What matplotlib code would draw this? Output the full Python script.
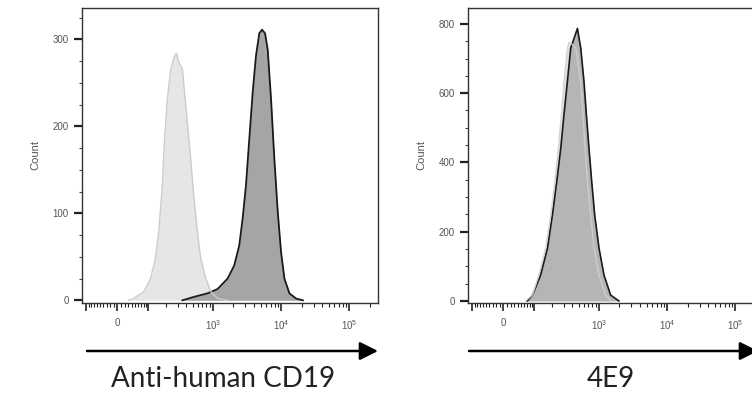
import numpy as np
import matplotlib
matplotlib.use("Agg")
import matplotlib.pyplot as plt

# ---------------- data (fluorescence intensity, cell counts) ----------------
left_iso_x = [30, 45, 81, 109, 133, 151, 173, 188, 208, 234, 263, 287, 314, 353,
              373, 420, 470, 527, 592, 662, 786, 931, 1169, 1640]
left_iso_y = [0, 2, 10, 25, 48, 78, 132, 185, 231, 265, 279, 284, 273, 266,
              246, 204, 162, 116, 78, 48, 25, 10, 2, 0]

left_cd19_x = [353, 527, 832, 1169, 1642, 2051, 2432, 2728, 3051, 3412, 3828, 4277,
               4787, 5243, 5808, 6361, 7115, 7958, 8930, 9985, 11168, 13223, 16595, 20824]
left_cd19_y = [0, 4, 8, 13, 25, 40, 63, 94, 132, 185, 239, 281,
               307, 311, 307, 288, 231, 162, 101, 55, 25, 8, 2, 0]

right_iso_x = [65, 92, 120, 157, 189, 220, 249, 277, 303, 341, 361, 383, 455, 540,
               583, 624, 677, 757, 846, 1002, 1256, 1486]
right_iso_y = [0, 17, 75, 153, 248, 345, 441, 537, 633, 730, 746, 745, 730, 633,
               537, 441, 345, 248, 153, 75, 17, 0]

right_4e9_x = [72, 92, 129, 168, 201, 235, 271, 303, 341, 383, 482, 540, 603, 654,
               714, 783, 867, 1002, 1186, 1486, 1964]
right_4e9_y = [0, 17, 75, 153, 248, 345, 441, 537, 633, 730, 787, 730, 633, 537,
               441, 345, 248, 153, 75, 17, 0]

x_major = [-100, 0, 100, 1e3, 1e4, 1e5]
x_major_labels = ["", "0", "", r"$\mathregular{10^{3}}$", r"$\mathregular{10^{4}}$",
                  r"$\mathregular{10^{5}}$"]
left_yticks = [0, 100, 200, 300]
right_yticks = [0, 200, 400, 600, 800]
xlabels = ["Anti-human CD19", "4E9"]
ylabel = "Count"

# ---------------- biexponential-like scale ----------------
C = 80.0
def fwd(x):
    return np.arcsinh(np.asarray(x, dtype=float) / C) / np.log(10)
def inv(u):
    return C * np.sinh(np.asarray(u, dtype=float) * np.log(10))

x_minor = ([s * v for v in range(10, 100, 10) for s in (-1, 1)]
           + [v * 100 for v in range(2, 10)]
           + [v * 1000 for v in range(2, 10)]
           + [v * 10000 for v in range(2, 10)]
           + [2e5])

W, H = 752, 397
fig = plt.figure(figsize=(W / 100, H / 100), dpi=100)

def px_axes(left, top, right, bottom):
    return fig.add_axes([left / W, 1 - bottom / H, (right - left) / W, (bottom - top) / H])

ax1 = px_axes(82, 8, 378, 302.5)
ax2 = px_axes(468, 8, 764, 302.5)

tick_col = "#555555"
for ax in (ax1, ax2):
    ax.set_xscale("function", functions=(fwd, inv))
    ax.set_xlim(-120, 262144)
    ax.set_xticks(x_major)
    ax.set_xticklabels(x_major_labels)
    ax.set_xticks(x_minor, minor=True)
    ax.tick_params(axis="x", which="major", direction="out", length=5.5, width=1.2,
                   color="#222222", labelsize=7, labelcolor=tick_col, pad=6)
    ax.tick_params(axis="x", which="minor", direction="out", length=3, width=0.8,
                   color="#222222")
    ax.tick_params(axis="y", which="major", direction="out", length=6, width=1.6,
                   color="#222222", labelsize=7, labelcolor=tick_col, pad=3.5)
    ax.tick_params(axis="y", which="minor", direction="out", length=2.5, width=0.8,
                   color="#444444")
    for sp in ax.spines.values():
        sp.set_linewidth(1.0)
        sp.set_color("#333333")
    ax.set_ylabel(ylabel, fontsize=8, color=tick_col, family="Liberation Sans")
    for lab in ax.get_xticklabels() + ax.get_yticklabels():
        lab.set_family("Liberation Sans")

# left panel
ax1.set_ylim(-2.5, 336)
ax1.set_yticks(left_yticks)
ax1.set_yticks(np.arange(0, 336, 25), minor=True)
ax1.fill_between(left_iso_x, left_iso_y, 0, color="#e6e6e6", lw=0, zorder=2)
ax1.fill_between(left_cd19_x, left_cd19_y, 0, color="#a5a5a5", lw=0, zorder=3)
ax1.plot(left_cd19_x, left_cd19_y, color="#1a1a1a", lw=1.3, zorder=4)
ax1.plot(left_iso_x, left_iso_y, color="#cccccc", lw=1.0, zorder=5)
ax1.yaxis.set_label_coords(-0.142, 0.5)

# right panel
ax2.set_ylim(-4.5, 846)
ax2.set_yticks(right_yticks)
ax2.set_yticks(np.arange(0, 846, 50), minor=True)
ax2.fill_between(right_iso_x, right_iso_y, 0, color="#dedede", lw=0, zorder=2)
ax2.fill_between(right_4e9_x, right_4e9_y, 0, color="#b5b5b5", lw=0, zorder=3)
ax2.plot(right_4e9_x, right_4e9_y, color="#1a1a1a", lw=1.2, zorder=4)
ax2.plot(right_iso_x, right_iso_y, color="#d0d0d0", lw=1.0, alpha=0.9, zorder=5)
ax2.yaxis.set_label_coords(-0.142, 0.5)

# arrows and axis captions (figure pixels, origin bottom-left)
arrow_y = H - 351
for x0, x1 in ((87, 378), (469, 758)):
    fig.add_artist(plt.Annotation("", xy=(x1, arrow_y), xytext=(x0, arrow_y),
                                  xycoords="figure pixels", textcoords="figure pixels",
                                  arrowprops=dict(arrowstyle="-|>,head_length=1.1,head_width=0.55",
                                                  lw=1.8, color="black",
                                                  shrinkA=0, shrinkB=0)))

fig.text(223 / W, 1 - 387 / H, xlabels[0], ha="center", va="baseline",
         fontsize=20, family="Lato", color="#222222")
fig.text(611 / W, 1 - 387 / H, xlabels[1], ha="center", va="baseline",
         fontsize=20, family="Lato", color="#222222")

fig.savefig("out.png", dpi=100)
